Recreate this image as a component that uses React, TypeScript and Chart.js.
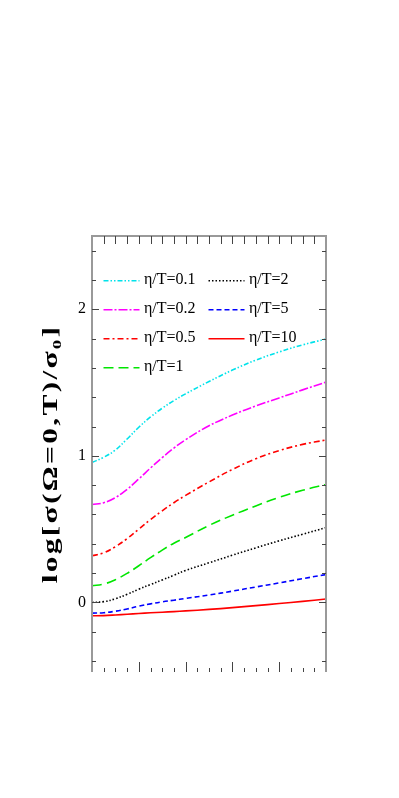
import React, { useEffect, useRef } from "react";
import { Chart, registerables } from "chart.js";

Chart.register(...registerables);

// ---- data ----
const X_VALUES = [0, 0.25, 0.5, 0.75, 1, 1.25, 1.5, 1.75, 2, 2.5, 3, 3.5, 4, 4.5, 5];
const SERIES_LABELS = ["η/T=0.1", "η/T=0.2", "η/T=0.5", "η/T=1", "η/T=2", "η/T=5", "η/T=10"];
const ETA_0_1 = [0.955, 0.99, 1.04, 1.115, 1.195, 1.265, 1.325, 1.377, 1.423, 1.507, 1.585, 1.653, 1.709, 1.757, 1.797];
const ETA_0_2 = [0.668, 0.68, 0.715, 0.772, 0.842, 0.917, 0.988, 1.053, 1.11, 1.205, 1.278, 1.34, 1.395, 1.45, 1.503];
const ETA_0_5 = [0.318, 0.338, 0.38, 0.435, 0.5, 0.565, 0.625, 0.68, 0.73, 0.822, 0.907, 0.98, 1.036, 1.078, 1.108];
const ETA_1 = [0.113, 0.125, 0.155, 0.198, 0.25, 0.305, 0.357, 0.404, 0.443, 0.525, 0.595, 0.658, 0.717, 0.765, 0.805];
const ETA_2 = [0.0, 0.005, 0.025, 0.055, 0.09, 0.122, 0.153, 0.185, 0.218, 0.27, 0.322, 0.372, 0.42, 0.465, 0.51];
const ETA_5 = [-0.073, -0.071, -0.06, -0.045, -0.026, -0.01, 0.004, 0.015, 0.027, 0.05, 0.077, 0.105, 0.133, 0.162, 0.19];
const ETA_10 = [-0.091, -0.09, -0.086, -0.081, -0.076, -0.071, -0.067, -0.063, -0.058, -0.048, -0.036, -0.022, -0.008, 0.007, 0.023];
const SERIES_VALUES = [ETA_0_1, ETA_0_2, ETA_0_5, ETA_1, ETA_2, ETA_5, ETA_10];
const Y_TICK_VALUES = [0, 1, 2];
const Y_TITLE = "log[σ(Ω=0,T)/σ₀]";
const X_MIN = 0;
const X_MAX = 5;
const Y_MIN = -0.475;
const Y_MAX = 2.5;

// ---- styles ----
const COLORS = ["#00e2ea", "#ff00ff", "#ff0000", "#00e600", "#000000", "#0000ff", "#ff0000"];
const DASHES: number[][] = [
  [5, 2, 1.5, 2, 1.5, 2],
  [9, 2, 2, 2],
  [6, 3, 2, 3],
  [10, 5],
  [1.5, 2],
  [5, 3],
  [],
];
const SERIF = '"Liberation Serif", "DejaVu Serif", "Times New Roman", serif';
const TITLE_STRETCH = 1.5;

const titleStretchPlugin = {
  id: "titleStretch",
  beforeDraw(chart: any) {
    const ctx = chart.ctx;
    const a = chart.chartArea;
    const cy = (a.top + a.bottom) / 2;
    ctx.save();
    ctx.translate(0, cy);
    ctx.scale(1, TITLE_STRETCH);
    ctx.translate(0, -cy);
    (ctx as any).letterSpacing = "1.5px";
  },
  beforeDatasetsDraw(chart: any) {
    chart.ctx.restore();
    (chart.ctx as any).letterSpacing = "0px";
  },
};

const frameTicksPlugin = {
  id: "frameTicks",
  afterDraw(chart: any) {
    const { ctx, chartArea: a } = chart;
    const xs = chart.scales.x;
    const ys = chart.scales.y;
    ctx.save();
    ctx.setLineDash([]);
    ctx.strokeStyle = "#999999";
    ctx.lineWidth = 2;
    ctx.beginPath();
    ctx.moveTo(a.left, a.bottom);
    ctx.lineTo(a.left, a.top);
    ctx.lineTo(a.right, a.top);
    ctx.lineTo(a.right, a.bottom);
    ctx.stroke();

    ctx.strokeStyle = "#444444";
    ctx.lineWidth = 1;
    ctx.beginPath();
    for (let i = -2; i <= 12; i++) {
      const v = i * 0.2;
      const major = Math.abs(v - Math.round(v)) < 1e-6;
      const py = Math.round(ys.getPixelForValue(v)) + 0.5;
      const len = major ? 7 : 4;
      ctx.moveTo(a.left, py);
      ctx.lineTo(a.left + len, py);
      ctx.moveTo(a.right, py);
      ctx.lineTo(a.right - len, py);
    }
    for (let i = 1; i < 20; i++) {
      const v = i * 0.25;
      const major = i % 4 === 0;
      const px = Math.round(xs.getPixelForValue(v)) + 0.5;
      ctx.moveTo(px, a.bottom);
      ctx.lineTo(px, a.bottom - (major ? 10 : 4));
      ctx.moveTo(px, a.top);
      ctx.lineTo(px, a.top + 8);
    }
    ctx.stroke();
    ctx.restore();
  },
};

const insetLegendPlugin = {
  id: "insetLegend",
  afterDraw(chart: any) {
    const { ctx, chartArea: a } = chart;
    ctx.save();
    ctx.font = `16px ${SERIF}`;
    ctx.textBaseline = "middle";
    ctx.textAlign = "left";
    ctx.fillStyle = "#000";
    chart.data.datasets.forEach((ds: any, i: number) => {
      const col = i < 4 ? 0 : 1;
      const row = i < 4 ? i : i - 4;
      const x0 = a.left + (col === 0 ? 11.5 : 116.5);
      const y = a.top + 44.7 + row * 29;
      ctx.strokeStyle = ds.borderColor;
      ctx.lineWidth = ds.borderWidth;
      ctx.setLineDash(ds.borderDash || []);
      ctx.beginPath();
      ctx.moveTo(x0, y);
      ctx.lineTo(x0 + 36, y);
      ctx.stroke();
      ctx.setLineDash([]);
      ctx.fillText(ds.label, x0 + 40.5, y - 1);
    });
    ctx.restore();
  },
};

export default function App() {
  const canvasRef = useRef<HTMLCanvasElement | null>(null);

  useEffect(() => {
    if (!canvasRef.current) return;
    const datasets = SERIES_LABELS.map((label, i) => ({
      label,
      data: X_VALUES.map((x, j) => ({ x, y: SERIES_VALUES[i][j] })),
      borderColor: COLORS[i],
      backgroundColor: COLORS[i],
      borderDash: DASHES[i],
      borderWidth: 1.6,
      pointRadius: 0,
      fill: false,
      tension: 0.4,
    }));

    const chart = new Chart(canvasRef.current, {
      type: "line",
      data: { datasets },
      options: {
        animation: false,
        responsive: true,
        maintainAspectRatio: false,
        layout: { padding: { left: 0, top: 236, right: 73, bottom: 126 } },
        plugins: {
          legend: { display: false },
          tooltip: { enabled: false },
        },
        scales: {
          x: {
            type: "linear",
            display: false,
            min: X_MIN,
            max: X_MAX,
          },
          y: {
            type: "linear",
            min: Y_MIN,
            max: Y_MAX,
            afterBuildTicks: (scale: any) => {
              scale.ticks = Y_TICK_VALUES.map((v) => ({ value: v }));
            },
            afterFit: (scale: any) => {
              scale.width = 92;
            },
            grid: { display: false, drawTicks: false },
            border: { display: false },
            ticks: {
              z: 1,
              padding: 6,
              color: "#000",
              font: { family: SERIF, size: 16 },
              callback: (v: any) => String(v),
            },
            title: {
              display: true,
              text: Y_TITLE,
              color: "#000",
              font: { family: SERIF, size: 21, weight: "bold" },
              padding: { top: 39, bottom: 0 },
            },
          },
        },
      },
      plugins: [titleStretchPlugin, frameTicksPlugin, insetLegendPlugin],
    });
    return () => chart.destroy();
  }, []);

  return (
    <div style={{ position: "absolute", left: 0, top: 0, width: 399, height: 798, background: "#fff" }}>
      <canvas ref={canvasRef} />
    </div>
  );
}
